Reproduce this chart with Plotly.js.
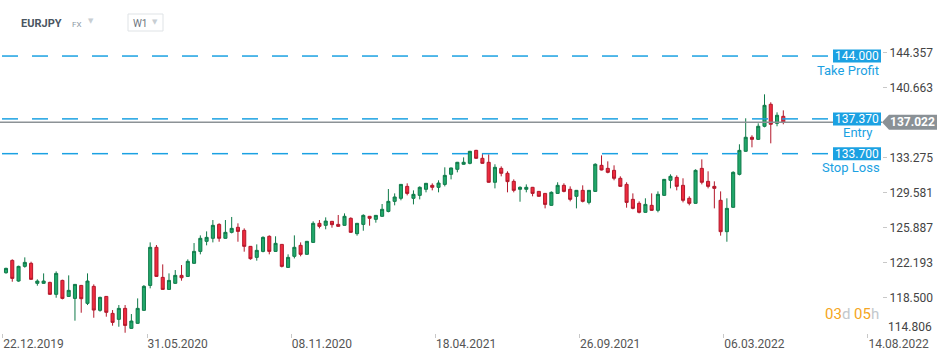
<!DOCTYPE html>
<html><head><meta charset="utf-8">
<script src="https://cdn.plot.ly/plotly-3.0.1.min.js"></script>
<style>html,body{margin:0;padding:0;background:#fff}#chart{width:949px;height:358px}</style>
</head><body><div id="chart"></div>
<script>
// ---------- data ----------
const symbol = 'EURJPY';
const market = 'FX';
const interval = 'W1';
const firstWeek = '2019-12-22';   // weekly candles, one per week from this Sunday
const open  = [121.14,122.44,120.26,121.81,122.13,120.02,120.02,120.12,118.86,120.33,118.64,118.43,119.80,117.91,119.70,117.17,118.64,116.85,116.22,117.38,115.27,115.80,117.17,119.80,123.82,120.65,119.38,120.02,120.86,120.75,122.13,123.39,124.45,124.77,126.24,124.77,125.40,125.93,125.61,123.92,122.76,123.39,124.98,123.39,124.13,121.70,122.87,124.03,123.08,124.34,126.35,126.14,126.56,126.24,126.14,126.88,125.26,126.24,127.09,126.77,127.09,127.61,128.67,128.99,130.25,128.99,129.30,129.94,130.36,130.15,130.46,131.52,132.05,132.58,132.68,134.05,133.21,132.79,130.68,132.15,131.63,130.78,129.94,129.94,130.15,129.72,129.51,128.25,129.51,130.36,129.94,129.20,129.83,128.56,129.72,132.47,132.15,131.94,131.10,130.46,128.88,128.46,127.51,128.25,127.72,129.30,130.89,131.20,130.36,128.99,128.46,132.15,130.78,130.25,128.78,125.47,128.04,131.52,133.95,135.43,135.21,136.59,138.91,136.90,137.64];
const high  = [121.67,122.55,121.88,122.76,122.30,120.44,121.07,120.19,121.28,120.40,120.86,119.95,119.85,121.07,119.91,118.61,118.68,117.20,117.73,117.73,116.78,118.43,119.84,124.34,124.06,122.02,121.07,121.42,121.95,122.55,124.27,125.08,125.50,126.70,126.35,126.70,127.02,126.35,125.82,123.96,124.13,124.98,125.08,124.98,124.17,123.08,125.08,124.34,124.49,126.56,126.70,126.98,126.60,127.23,127.40,126.98,126.39,127.30,127.13,127.23,128.39,129.97,129.51,130.50,130.57,129.83,130.25,130.61,130.57,130.89,132.26,132.23,132.83,133.31,133.99,134.10,133.74,133.63,132.58,132.36,131.84,130.99,130.25,130.46,130.19,129.76,129.55,129.72,130.68,130.57,130.25,129.87,130.36,129.87,132.68,133.52,132.89,132.47,131.31,130.68,129.51,128.67,128.99,129.51,129.72,131.03,131.52,131.41,131.10,129.20,132.05,133.10,131.84,130.78,129.72,128.99,131.84,134.69,137.43,135.64,136.90,139.96,139.12,138.06,138.27];
const low   = [121.04,120.19,120.19,121.67,120.40,119.77,119.98,118.82,118.50,118.33,118.60,116.08,116.92,117.73,116.39,117.03,116.50,115.55,115.44,114.81,115.23,115.76,117.13,119.49,120.71,119.34,119.34,119.98,120.30,120.71,122.09,123.08,124.03,124.34,124.41,124.73,125.29,124.41,123.36,122.51,122.41,123.29,123.08,123.35,121.70,121.66,122.65,122.87,123.04,124.30,125.82,125.72,125.89,126.00,126.10,125.36,125.05,125.57,126.10,126.42,127.05,127.51,128.25,128.78,129.30,128.35,128.88,129.62,129.83,129.62,130.25,130.99,131.73,132.54,132.58,133.17,132.64,130.64,130.04,131.31,129.62,129.62,128.63,129.62,129.20,129.16,127.93,128.21,129.47,129.62,128.67,127.93,128.56,128.35,129.68,131.94,131.63,130.89,130.21,128.00,127.83,127.40,127.47,127.68,127.51,129.26,130.04,129.83,128.56,128.25,128.42,130.46,130.04,127.93,125.05,124.41,128.00,131.41,133.91,134.37,135.17,136.48,134.79,136.59,136.80];
const close = [121.60,120.54,121.81,122.23,120.44,120.26,120.26,118.86,121.07,118.43,119.28,119.91,118.40,120.26,117.20,118.54,116.96,115.90,117.38,115.58,116.04,117.38,119.70,123.82,120.75,119.38,120.33,120.86,120.61,122.34,123.39,124.77,124.87,126.14,124.77,125.40,125.82,125.50,123.92,122.62,123.50,124.87,123.39,124.24,121.81,122.76,123.82,123.08,124.45,126.35,126.03,126.59,126.21,126.03,127.09,125.40,126.35,127.19,126.88,127.19,127.83,128.67,129.13,130.46,129.51,129.41,130.15,130.57,130.15,130.60,131.41,132.19,132.79,132.79,133.95,133.21,132.68,130.68,132.26,131.63,130.75,129.83,130.15,130.15,129.51,129.20,128.35,129.62,130.36,129.72,128.88,129.83,128.67,129.83,132.58,131.98,131.73,131.10,130.25,128.56,127.93,127.51,128.35,127.72,129.41,130.99,131.31,130.25,128.78,128.46,131.94,130.68,130.25,130.04,125.47,127.93,131.73,134.05,135.43,135.21,136.59,138.80,136.80,137.75,137.02];
const xTickDates  = ['2019-12-22','2020-05-31','2020-11-08','2021-04-18','2021-09-26','2022-03-06','2022-08-14'];
const xTickLabels = ['22.12.2019','31.05.2020','08.11.2020','18.04.2021','26.09.2021','06.03.2022','14.08.2022'];
const yTickValues = [114.806,118.500,122.193,125.887,129.581,133.275,140.663,144.357];
const yTickLabels = ['114.806','118.500','122.193','125.887','129.581','133.275','140.663','144.357'];
const levelValues = [144.000,137.370,133.700];
const levelLabels = ['144.000','137.370','133.700'];
const levelNames  = ['Take Profit','Entry','Stop Loss'];
const lastPrice = 137.022;
const lastPriceLabel = '137.022';
const countdown = ['03','d','05','h'];

// ---------- build ----------
const weeks = open.map((_, i) => new Date(Date.parse(firstWeek + 'T00:00:00Z') + i * 7 * 864e5).toISOString().slice(0, 10));
const BLUE = '#1ba1e2';
const PW = 882, PT = 35, PB = 333;           // plot area in px
const px = v => v / PW;                      // x pixel -> paper
const py = v => (PB - v) / (PB - PT);        // y pixel -> paper

const trace = {
  type: 'candlestick', x: weeks, open, high, low, close,
  xperiod: 7 * 864e5, xperiodalignment: 'middle',
  increasing: {line: {color: '#0f7a49', width: 1}, fillcolor: '#21a86b'},
  decreasing: {line: {color: '#b3182b', width: 1}, fillcolor: '#ee2b3e'},
  whiskerwidth: 0, hoverinfo: 'skip', showlegend: false
};

const shapes = [];
const annotations = [];
// dashed level lines: 16px dashes, 14px gaps, ending before the label boxes
const DASH = 16, GAP = 14, LINE_START = 2, LINE_END = 829;
levelValues.forEach(v => {
  for (let s = LINE_START; s < LINE_END; s += DASH + GAP) {
    shapes.push({type: 'line', xref: 'paper', yref: 'y', x0: px(s), x1: px(Math.min(s + DASH, LINE_END)), y0: v, y1: v,
      line: {color: BLUE, width: 1.5}, layer: 'above'});
  }
});
// current price line
shapes.push({type: 'line', xref: 'paper', yref: 'y', x0: 0, x1: 1, y0: lastPrice, y1: lastPrice,
  line: {color: '#8c9296', width: 1.5}, layer: 'above'});
levelValues.forEach((v, i) => {
  shapes.push({type: 'rect', xref: 'paper', xsizemode: 'pixel', xanchor: 1, x0: -49, x1: -1,
    yref: 'y', ysizemode: 'pixel', yanchor: v, y0: -6.5, y1: 6.5,
    fillcolor: BLUE, line: {width: 0}, layer: 'above'});
  annotations.push({xref: 'paper', x: 1, xshift: -25, xanchor: 'center', yref: 'y', y: v, yanchor: 'middle',
    text: levelLabels[i], showarrow: false, font: {family: 'Roboto', size: 12, color: '#fff'}});
});
const nameShift = [[-1, 'right'], [-24, 'center'], [0, 'right']];
levelValues.forEach((v, i) => {
  annotations.push({xref: 'paper', x: 1, xshift: nameShift[i][0], xanchor: nameShift[i][1], yref: 'y', y: v, yshift: -14,
    yanchor: 'middle', text: levelNames[i], showarrow: false, font: {family: 'Roboto', size: 13, color: BLUE}});
});
// last price tag
shapes.push({type: 'path', xref: 'paper', xsizemode: 'pixel', xanchor: 1, yref: 'y', ysizemode: 'pixel', yanchor: lastPrice,
  path: 'M0,0 L7,7.5 L55,7.5 L55,-7.5 L7,-7.5 Z', fillcolor: '#8a9196', line: {width: 0}, layer: 'above'});
annotations.push({xref: 'paper', x: 1, xshift: 30, xanchor: 'center', yref: 'y', y: lastPrice, yanchor: 'middle',
  text: '<b>' + lastPriceLabel + '</b>', showarrow: false, font: {family: 'Roboto', size: 12, color: '#fff'}});
// bottom y label (drawn above its tick like the original)
annotations.push({xref: 'paper', x: 1, xshift: 4, xanchor: 'left', yref: 'y', y: yTickValues[0], yshift: 6, yanchor: 'middle',
  text: yTickLabels[0], showarrow: false, font: {family: 'Roboto', size: 12, color: '#444'}});
// countdown
annotations.push({xref: 'paper', x: 1, xshift: -1, xanchor: 'right', yref: 'paper', y: py(313.5), yanchor: 'middle', showarrow: false,
  text: '<span style="color:#f5a623">' + countdown[0] + '</span><span style="color:#c3c8cc">' + countdown[1] + '</span> ' +
        '<span style="color:#f5a623">' + countdown[2] + '</span><span style="color:#c3c8cc">' + countdown[3] + '</span>',
  font: {family: 'Roboto', size: 15}});
// header
annotations.push({xref: 'paper', x: px(19), xanchor: 'left', yref: 'paper', y: py(23), yanchor: 'middle', showarrow: false,
  text: '<b>' + symbol + '</b>', font: {family: 'Roboto', size: 11, color: '#4a5561'}});
annotations.push({xref: 'paper', x: px(70), xanchor: 'left', yref: 'paper', y: py(24), yanchor: 'middle', showarrow: false,
  text: market, font: {family: 'Roboto', size: 8, color: '#8d9aa5'}});
annotations.push({xref: 'paper', x: px(86), xanchor: 'left', yref: 'paper', y: py(21.5), yanchor: 'middle', showarrow: false,
  text: '▼', font: {family: 'DejaVu Sans', size: 7, color: '#c8ced3'}});
shapes.push({type: 'rect', xref: 'paper', yref: 'paper', x0: px(128), x1: px(163), y0: py(31), y1: py(14),
  line: {color: '#dfe3e6', width: 1}, fillcolor: 'rgba(0,0,0,0)'});
annotations.push({xref: 'paper', x: px(131), xanchor: 'left', yref: 'paper', y: py(23), yanchor: 'middle', showarrow: false,
  text: interval, font: {family: 'Roboto', size: 10, color: '#6c757d'}});
annotations.push({xref: 'paper', x: px(150), xanchor: 'left', yref: 'paper', y: py(22), yanchor: 'middle', showarrow: false,
  text: '▼', font: {family: 'DejaVu Sans', size: 7, color: '#c8ced3'}});

const layout = {
  width: 949, height: 358,
  margin: {l: 0, r: 949 - PW, t: PT, b: 358 - PB},
  paper_bgcolor: '#fff', plot_bgcolor: '#fff',
  showlegend: false,
  xaxis: {type: 'date', range: ['2019-12-18 19:00', '2022-08-29 17:00'],
    tickvals: xTickDates, ticktext: xTickLabels, ticks: 'outside', ticklen: 4, tickcolor: '#c8c8c8',
    ticklabelposition: 'outside right', tickfont: {family: 'Roboto', size: 12, color: '#555'},
    showgrid: false, zeroline: false, showline: false, rangeslider: {visible: false}, fixedrange: true},
  yaxis: {side: 'right', range: [114.78, 146.22],
    tickvals: yTickValues.slice(1), ticktext: yTickLabels.slice(1), ticks: 'outside', ticklen: 4, tickcolor: '#c8c8c8',
    tickfont: {family: 'Roboto', size: 12, color: '#444'},
    showgrid: false, zeroline: false, showline: false, fixedrange: true},
  shapes, annotations
};
Plotly.newPlot('chart', [trace], layout, {displayModeBar: false, staticPlot: true});
</script></body></html>
